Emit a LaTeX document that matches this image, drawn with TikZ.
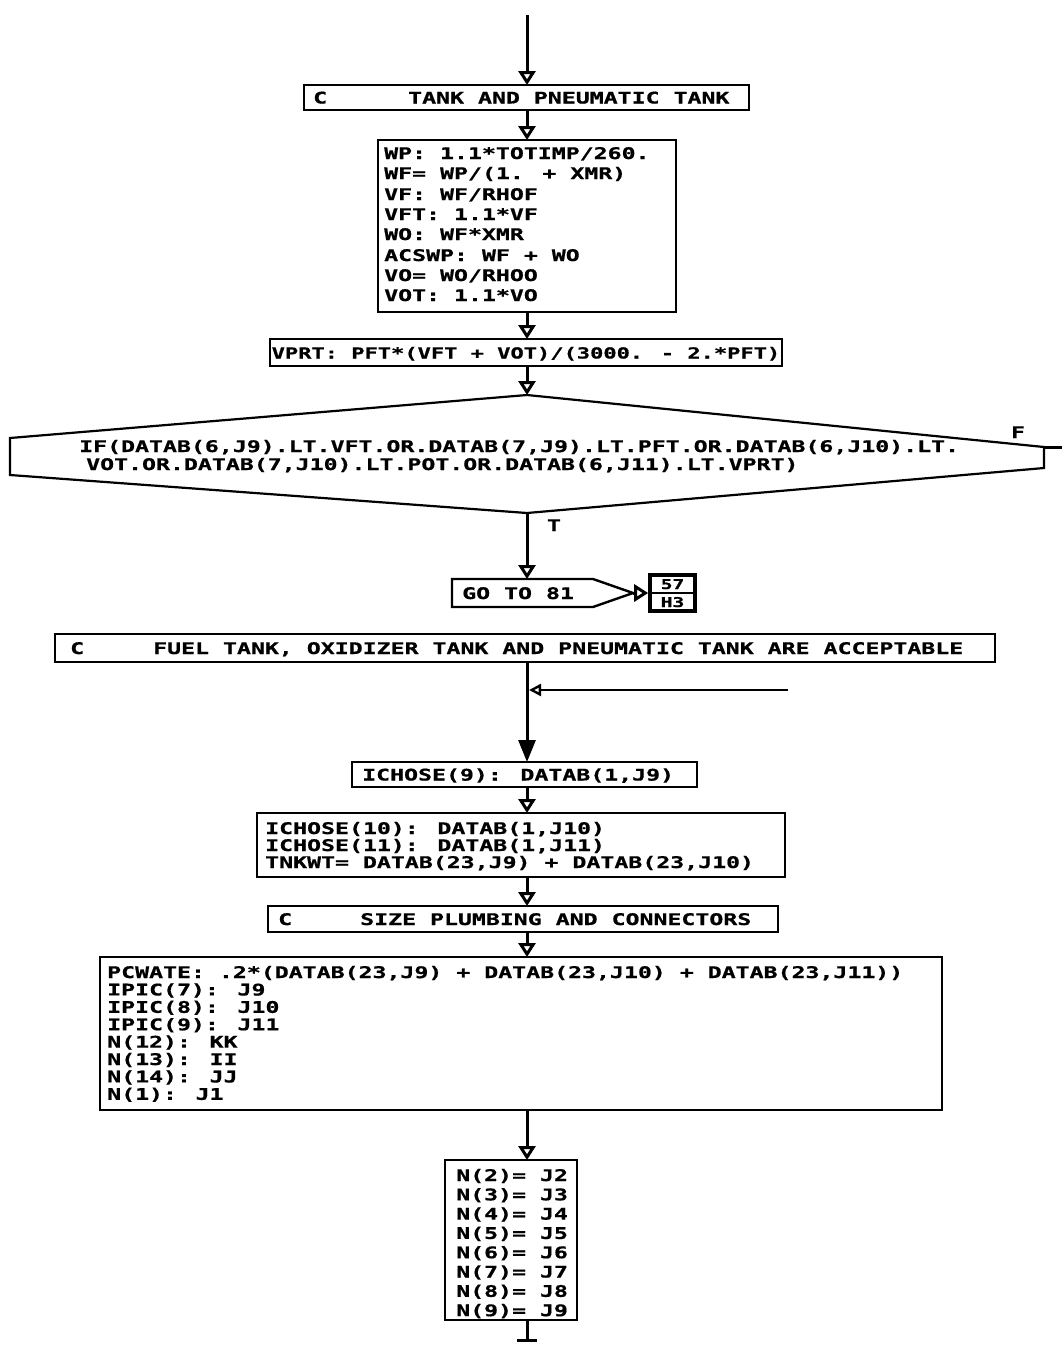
\documentclass[tikz,border=0pt]{standalone}
\usepackage{fontspec}
\newfontfamily\plt{DejaVu Sans Mono Bold}[FakeStretch=1.45, FakeBold=0.8]
\usetikzlibrary{arrows.meta}
\begin{document}
\begin{tikzpicture}[x=1pt,y=-1pt,
  box/.style={draw, line width=2.4pt, inner sep=0pt, outer sep=0pt},
  txt/.style={font=\plt\fontsize{16}{20}\selectfont, inner sep=0pt, anchor=base west, yshift=-6pt},
  txtn/.style={font=\plt\fontsize{15.2}{20}\selectfont, inner sep=0pt, anchor=base, yshift=-6pt},
  lbl/.style={font=\plt\fontsize{16}{20}\selectfont, inner sep=0pt, anchor=base, yshift=-6pt},
  sml/.style={font=\plt\fontsize{13.5}{18}\selectfont, inner sep=0pt, anchor=base, yshift=-5pt},
  con/.style={line width=3pt},
  arr/.style={con, -{Triangle[open, length=14pt, width=17pt, line width=3pt]}},
  farr/.style={con, -{Triangle[length=22pt, width=17pt]}},
  larr/.style={line width=2.4pt, -{Triangle[open, length=12pt, width=12pt, line width=2.4pt]}}
]
\useasboundingbox (0,0) rectangle (1062,1347);
\coordinate (ax) at (527,0);
\coordinate (top) at (527,15);

% box 1
\node[box, minimum width=445pt, minimum height=25pt] (b1) at (526.5,97.5) {};
\node[txt] (t1c) at (313,97.5) {C};
\node[txt] (t1) at (408,97.5) {TANK AND PNEUMATIC TANK};

% box 2
\node[box, minimum width=298pt, minimum height=172pt] (b2) at (527,226) {};
\node[txt] (t2a) at (384,153) {WP: 1.1*TOTIMP/260.};
\node[txt] (t2b) at (384,173) {WF= WP/(1. + XMR)};
\node[txt] (t2c) at (384,194) {VF: WF/RHOF};
\node[txt] (t2d) at (384,214) {VFT: 1.1*VF};
\node[txt] (t2e) at (384,234) {WO: WF*XMR};
\node[txt] (t2f) at (384,255) {ACSWP: WF + WO};
\node[txt] (t2g) at (384,275) {VO= WO/RHOO};
\node[txt] (t2h) at (384,295) {VOT: 1.1*VO};

% box 3
\node[box, minimum width=512pt, minimum height=27pt] (b3) at (526,352.5) {};
\node[txtn] (t3) at (526,352.5) {VPRT: PFT*(VFT + VOT)/(3000. - 2.*PFT)};

% decision
\coordinate (dT) at (527,395);
\coordinate (dR) at (1044,447);
\coordinate (dR2) at (1044,468);
\coordinate (dB) at (527,513);
\coordinate (dL2) at (10,475);
\coordinate (dL) at (10,438);
\draw[line width=2.2pt] (dT) -- (dR) -- (dR2) -- (dB) -- (dL2) -- (dL) -- cycle;
\node[txt] (td1) at (79,446) {IF(DATAB(6,J9).LT.VFT.OR.DATAB(7,J9).LT.PFT.OR.DATAB(6,J10).LT.};
\node[txt] (td2) at (86,464) {VOT.OR.DATAB(7,J10).LT.POT.OR.DATAB(6,J11).LT.VPRT)};
\node[lbl] (lf) at (1018,432) {F};
\node[lbl] (lt) at (554,525) {T};
\coordinate (fx) at (1062,447);
\draw[con] (dR) -- (fx);

% go to
\coordinate (gT) at (527,579);
\coordinate (gP) at (633,593);
\draw[line width=2.4pt] (452,579) -- (593,579) -- (gP) -- (593,607) -- (452,607) -- cycle;
\node[txt] (tg) at (462,593) {GO TO 81};
\node[draw, line width=3.6pt, minimum width=45pt, minimum height=36pt, inner sep=0pt] (conn) at (672.5,593) {};
\draw[line width=2.6pt] (conn.west) -- (conn.east);
\node[sml] (c1) at (672.5,584) {57};
\node[sml] (c2) at (672.5,602) {H3};

% fuel box
\node[box, minimum width=940pt, minimum height=28pt] (b4) at (525,648) {};
\node[txt] (t4c) at (70,648) {C};
\node[txt] (t4) at (153,648) {FUEL TANK, OXIDIZER TANK AND PNEUMATIC TANK ARE ACCEPTABLE};

\coordinate (inR) at (788,690);
\coordinate (inJ) at (529,690);

% ichose 9
\node[box, minimum width=345pt, minimum height=25pt] (b5) at (524.5,774.5) {};
\node[txt] (t5) at (362,774.5) {ICHOSE(9): DATAB(1,J9)};

% ichose 10
\node[box, minimum width=528pt, minimum height=64pt] (b6) at (521,845) {};
\node[txt] (t6a) at (265,828) {ICHOSE(10): DATAB(1,J10)};
\node[txt] (t6b) at (265,845) {ICHOSE(11): DATAB(1,J11)};
\node[txt] (t6c) at (265,862) {TNKWT= DATAB(23,J9) + DATAB(23,J10)};

% size box
\node[box, minimum width=510pt, minimum height=26pt] (b7) at (523,919) {};
\node[txt] (t7c) at (278,919) {C};
\node[txt] (t7) at (360,919) {SIZE PLUMBING AND CONNECTORS};

% pcwate box
\node[box, minimum width=842pt, minimum height=153pt] (b8) at (521,1033.5) {};
\node[txt] (t8a) at (107,972) {PCWATE: .2*(DATAB(23,J9) + DATAB(23,J10) + DATAB(23,J11))};
\node[txt] (t8b) at (107,989.4) {IPIC(7): J9};
\node[txt] (t8c) at (107,1006.8) {IPIC(8): J10};
\node[txt] (t8d) at (107,1024.2) {IPIC(9): J11};
\node[txt] (t8e) at (107,1041.6) {N(12): KK};
\node[txt] (t8f) at (107,1059) {N(13): II};
\node[txt] (t8g) at (107,1076.4) {N(14): JJ};
\node[txt] (t8h) at (107,1093.8) {N(1): J1};

% N box
\node[box, minimum width=132pt, minimum height=160pt] (b9) at (511,1240) {};
\node[txt] (t9a) at (456,1175) {N(2)= J2};
\node[txt] (t9b) at (456,1194.3) {N(3)= J3};
\node[txt] (t9c) at (456,1213.6) {N(4)= J4};
\node[txt] (t9d) at (456,1232.9) {N(5)= J5};
\node[txt] (t9e) at (456,1252.2) {N(6)= J6};
\node[txt] (t9f) at (456,1271.5) {N(7)= J7};
\node[txt] (t9g) at (456,1290.8) {N(8)= J8};
\node[txt] (t9h) at (456,1310.1) {N(9)= J9};
\coordinate (bot) at (527,1340);

% connectors
\draw[arr] (top) -- (b1.north -| ax);
\draw[arr] (b1.south -| ax) -- (b2.north -| ax);
\draw[arr] (b2.south -| ax) -- (b3.north -| ax);
\draw[arr] (b3.south -| ax) -- (dT);
\draw[arr] (dB) -- (gT);
\draw[arr] (gP) -- (conn.west);
\draw[farr] (b4.south -| ax) -- (b5.north -| ax);
\draw[larr] (inR) -- (inJ);
\draw[arr] (b5.south -| ax) -- (b6.north -| ax);
\draw[arr] (b6.south -| ax) -- (b7.north -| ax);
\draw[arr] (b7.south -| ax) -- (b8.north -| ax);
\draw[arr] (b8.south -| ax) -- (b9.north -| ax);
\draw[con] (b9.south -| ax) -- (bot);
\draw[con] ([xshift=-10pt]bot) -- ([xshift=10pt]bot);
\end{tikzpicture}
\end{document}
